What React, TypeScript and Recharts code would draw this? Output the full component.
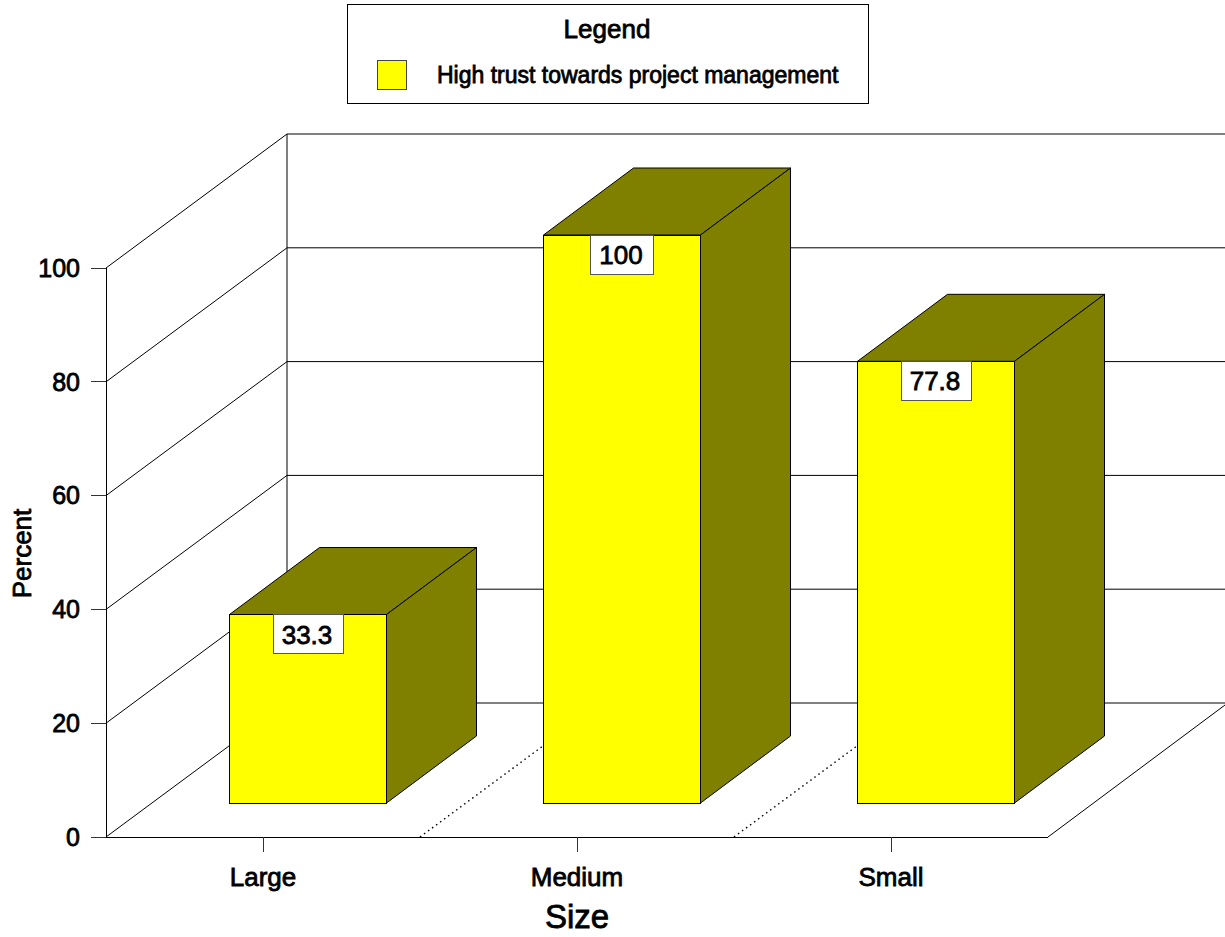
import { BarChart, Bar, XAxis, YAxis, CartesianGrid, Label, Legend } from 'recharts'

const sizes = ['Large', 'Medium', 'Small']
const trustValues = [33.3, 100, 77.8]
const percentTicks = [0, 20, 40, 60, 80, 100]
const seriesName = 'High trust towards project management'

const data = sizes.map((size, i) => ({ size, trust: trustValues[i] }))

const WIDTH = 1225
const HEIGHT = 937
const FONT = '"Liberation Sans", Arial, sans-serif'
const YELLOW = '#ffff00'
const OLIVE = '#808000'

// oblique projection: full depth of the floor, and the part a bar takes up
const DEPTH_X = 181
const DEPTH_Y = 134
const BAR_DEPTH_X = 90
const BAR_DEPTH_Y = 67
const BAR_SHIFT_X = 44.5
const BAR_SHIFT_Y = 33

const PLOT_LEFT = 106
const PLOT_RIGHT = 1048

// the source font is double-struck, a thin outline gives the same weight
const textStyle = { fontFamily: FONT, fill: '#000', stroke: '#000', strokeWidth: 0.8 }

function WallLine({ x1, y1, x2 }: any) {
  const backY = y1 - DEPTH_Y
  const isFloor = y1 > 830
  return (
    <g fill="none" stroke="#000" strokeWidth={1}>
      <polyline points={`${x1},${y1} ${x1 + DEPTH_X},${backY} ${WIDTH},${backY}`} />
      {isFloor && <line x1={x2} y1={y1} x2={WIDTH} y2={backY + 2} />}
    </g>
  )
}

function FloorDivider({ x1, y1, y2, index }: any) {
  const step = (PLOT_RIGHT - PLOT_LEFT) / sizes.length
  return (
    <g fill="none" stroke="#000" strokeWidth={1}>
      {index === 0 && (
        <line
          x1={PLOT_LEFT + DEPTH_X}
          y1={y1 - DEPTH_Y}
          x2={PLOT_LEFT + DEPTH_X}
          y2={y2 - DEPTH_Y}
        />
      )}
      {index < sizes.length - 1 && (
        <line
          x1={x1 + step / 2}
          y1={y2}
          x2={x1 + step / 2 + DEPTH_X}
          y2={y2 - DEPTH_Y}
          strokeWidth={1.4}
          strokeDasharray="1.5 3.5"
        />
      )}
    </g>
  )
}

function Box3D({ x, y, width, height, value }: any) {
  const left = x + BAR_SHIFT_X
  const right = left + width
  const top = y - BAR_SHIFT_Y
  const bottom = top + height - 1
  const cx = left + width / 2
  const label = String(value)
  const boxW = label.length > 3 ? 70 : 63
  return (
    <g stroke="#000" strokeWidth={1}>
      <polygon
        fill={OLIVE}
        points={`${left},${top} ${left + BAR_DEPTH_X},${top - BAR_DEPTH_Y} ${right + BAR_DEPTH_X},${top - BAR_DEPTH_Y} ${right},${top}`}
      />
      <polygon
        fill={OLIVE}
        points={`${right},${top} ${right + BAR_DEPTH_X},${top - BAR_DEPTH_Y} ${right + BAR_DEPTH_X},${bottom - BAR_DEPTH_Y} ${right},${bottom}`}
      />
      <rect x={left} y={top} width={width} height={bottom - top} fill={YELLOW} shapeRendering="crispEdges" />
      <rect
        x={cx - boxW / 2}
        y={top}
        width={boxW}
        height={39}
        fill="#fff"
        stroke="#555"
        shapeRendering="crispEdges"
      />
      <text x={cx - 1} y={top + 29} textAnchor="middle" fontSize={26} {...textStyle}>
        {label}
      </text>
    </g>
  )
}

function LegendBox({ payload }: any) {
  const item = payload?.[0]
  return (
    <svg width={522} height={100} style={{ display: 'block' }}>
      <rect x={0.5} y={0.5} width={521} height={99} fill="#fff" stroke="#000" />
      <text x={260} y={34} textAnchor="middle" fontSize={26} {...textStyle}>
        Legend
      </text>
      <rect x={30.5} y={56.5} width={29} height={29} fill={item?.color ?? YELLOW} stroke="#444" />
      <text x={90} y={79} fontSize={23} {...textStyle}>
        {item?.value}
      </text>
    </svg>
  )
}

export default function App() {
  return (
    <div style={{ position: 'absolute', left: 0, top: 0, width: WIDTH, height: HEIGHT, background: '#fff' }}>
      <BarChart
        width={WIDTH}
        height={HEIGHT}
        data={data}
        barSize={157}
        margin={{ top: 268, right: WIDTH - PLOT_RIGHT, bottom: 0, left: 0 }}
      >
        <CartesianGrid
          syncWithTicks
          horizontal={(props: any) => <WallLine key={props.key} {...props} />}
          vertical={(props: any) => <FloorDivider key={props.key} {...props} />}
        />
        <XAxis
          dataKey="size"
          height={100}
          interval={0}
          tickSize={15}
          tickMargin={16}
          axisLine={{ stroke: '#000', shapeRendering: 'crispEdges' }}
          tickLine={{ stroke: '#333', shapeRendering: 'crispEdges' }}
          tick={{ fontSize: 26, ...textStyle }}
        >
          <Label
            content={({ viewBox }: any) => (
              <text x={viewBox.x + viewBox.width / 2} y={928} textAnchor="middle" fontSize={33} {...textStyle}>
                Size
              </text>
            )}
          />
        </XAxis>
        <YAxis
          domain={[0, 100]}
          ticks={percentTicks}
          width={PLOT_LEFT}
          tickSize={15}
          tickMargin={11}
          axisLine={{ stroke: '#000', shapeRendering: 'crispEdges' }}
          tickLine={{ stroke: '#333', shapeRendering: 'crispEdges' }}
          tick={{ fontSize: 25, ...textStyle }}
        >
          <Label
            content={({ viewBox }: any) => {
              const cy = viewBox.y + viewBox.height / 2
              return (
                <text transform={`translate(31 ${cy + 1}) rotate(-90)`} textAnchor="middle" fontSize={26} {...textStyle}>
                  Percent
                </text>
              )
            }}
          />
        </YAxis>
        <Legend
          layout="vertical"
          align="center"
          verticalAlign="middle"
          content={<LegendBox />}
          wrapperStyle={{ left: 347, top: 4, width: 522, height: 100 }}
        />
        <Bar dataKey="trust" name={seriesName} fill={YELLOW} shape={<Box3D />} isAnimationActive={false} />
      </BarChart>
    </div>
  )
}
